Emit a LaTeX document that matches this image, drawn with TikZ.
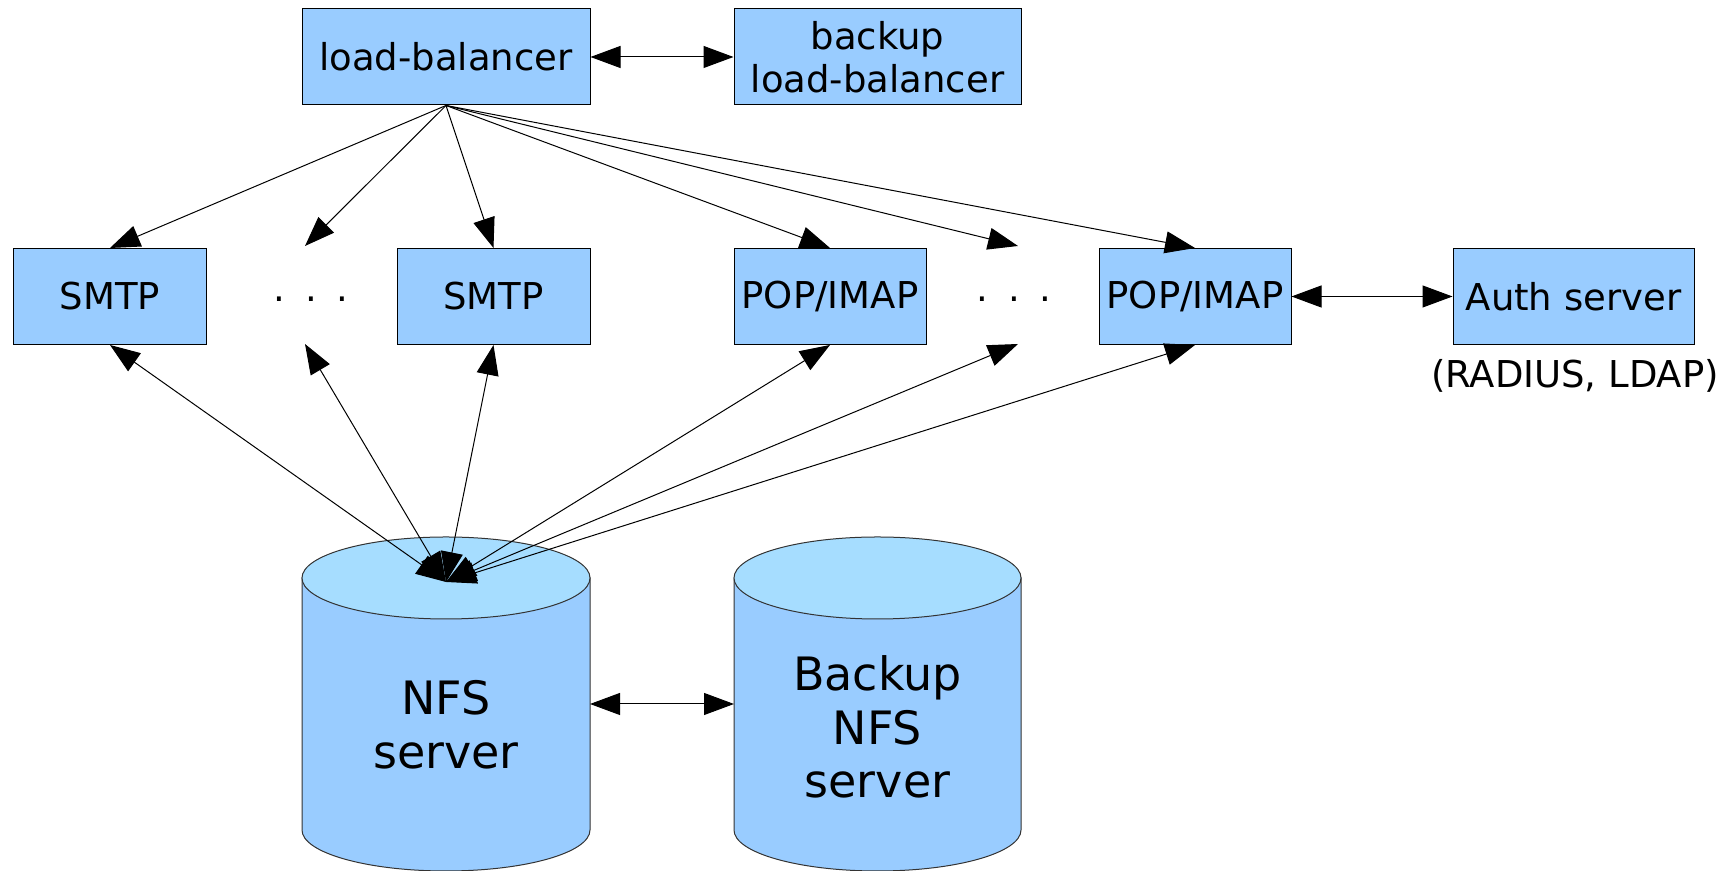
\documentclass[tikz,border=0pt]{standalone}
\usepackage{fontspec}
\setmainfont{DejaVu Sans}
\usetikzlibrary{arrows.meta}
\definecolor{boxblue}{HTML}{99CCFF}
\definecolor{topblue}{HTML}{A6DDFF}
\newcommand{\boxfont}{\fontsize{18.5pt}{21.5pt}\selectfont}
\newcommand{\cylfont}{\fontsize{23pt}{26.8pt}\selectfont}
\begin{document}
\begin{tikzpicture}[x=0.5pt,y=0.5pt,
  box/.style={draw=black, fill=boxblue, line width=0.5pt, minimum height=48pt,
    inner sep=0pt, align=center, font=\boxfont},
  arr/.style={-{Triangle[length=15pt,width=11pt]}, line width=0.5pt},
  darr/.style={{Triangle[length=15pt,width=11pt]}-{Triangle[length=15pt,width=11pt]}, line width=0.5pt},
  cylbody/.style={fill=boxblue, draw=black!80, line width=0.5pt},
  cyltop/.style={fill=topblue, draw=black!80, line width=0.5pt},
  dotsnode/.style={font=\boxfont, inner sep=0pt},
  lbl/.style={font=\boxfont, inner sep=0pt},
  cyltext/.style={font=\cylfont, align=center, inner sep=0pt}]
\useasboundingbox (0,0) rectangle (1735,871);

% top row
\node[box, minimum width=144pt] (lb) at (446,814) {load-balancer};
\node[box, minimum width=143.5pt] (blb) at (877.5,814) {backup\\load-balancer};

% middle row
\node[box, minimum width=96.5pt] (smtp1) at (110,574.5) {SMTP};
\node[dotsnode] (dots1) at (311,572) {.\hspace{10pt}.\hspace{10pt}.};
\node[box, minimum width=96.5pt] (smtp2) at (493.5,574.5) {SMTP};
\node[box, minimum width=96pt] (pop1) at (830,574.5) {POP/IMAP};
\node[dotsnode] (dots2) at (1014,572) {.\hspace{10pt}.\hspace{10pt}.};
\node[box, minimum width=96pt] (pop2) at (1195,574.5) {POP/IMAP};
\node[box, minimum width=120.5pt] (auth) at (1573.5,574.5) {Auth server};
\node[lbl] (radius) at (1575,495) {(RADIUS, LDAP)};

\coordinate (d1t) at (305,625);
\coordinate (d1b) at (305,527);
\coordinate (d2t) at (1018,625);
\coordinate (d2b) at (1018,527);

% cylinders
\path[cylbody] (302,293) -- (302,41)
  arc[start angle=180,end angle=360,x radius=72pt,y radius=20.5pt]
  -- (590,293) -- cycle;
\path[cyltop] (446,293) ellipse [x radius=72pt, y radius=20.5pt];
\node[cyltext] (nfs) at (446,146) {NFS\\server};
\coordinate (nfstop) at (446,289);
\coordinate (nfsr) at (590,167);

\path[cylbody] (734,293) -- (734,41)
  arc[start angle=180,end angle=360,x radius=71.75pt,y radius=20.5pt]
  -- (1021,293) -- cycle;
\path[cyltop] (877.5,293) ellipse [x radius=71.75pt, y radius=20.5pt];
\node[cyltext] (bnfs) at (877.5,144) {Backup\\NFS\\server};
\coordinate (bnfsl) at (734,167);

% connectors
\draw[darr] (lb.east) -- (blb.west);
\draw[darr] (pop2.east) -- (auth.west);
\draw[darr] (nfsr) -- (bnfsl);

\draw[arr] (lb.south) -- (smtp1.north);
\draw[arr] (lb.south) -- (d1t);
\draw[arr] (lb.south) -- (smtp2.north);
\draw[arr] (lb.south) -- (pop1.north);
\draw[arr] (lb.south) -- (d2t);
\draw[arr] (lb.south) -- (pop2.north);

\draw[darr] (nfstop) -- (smtp1.south);
\draw[darr] (nfstop) -- (d1b);
\draw[darr] (nfstop) -- (smtp2.south);
\draw[darr] (nfstop) -- (pop1.south);
\draw[darr] (nfstop) -- (d2b);
\draw[darr] (nfstop) -- (pop2.south);
\end{tikzpicture}
\end{document}
